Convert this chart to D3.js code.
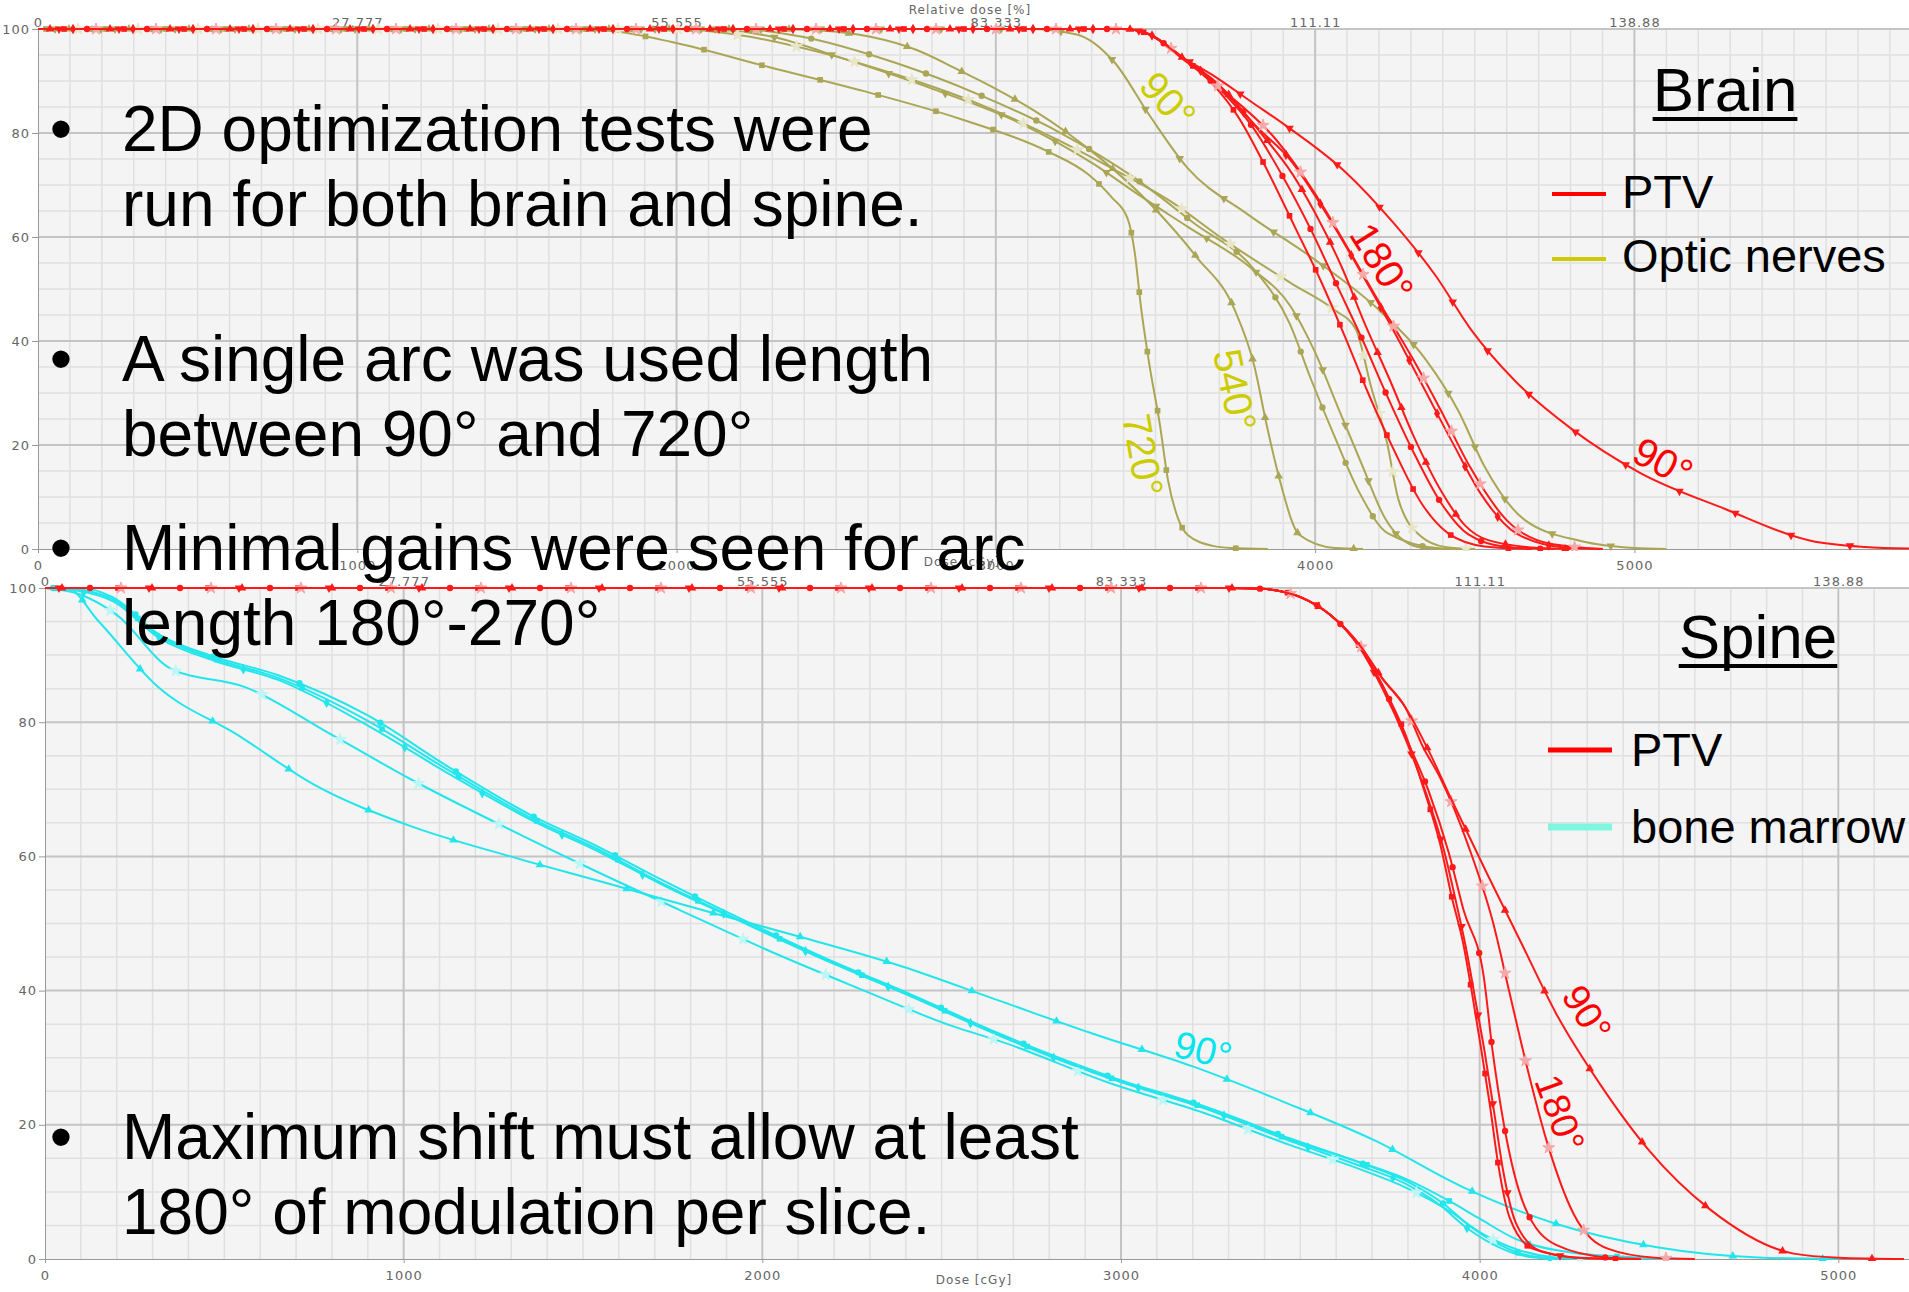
<!DOCTYPE html>
<html lang="en">
<head>
<meta charset="UTF-8">
<title>2D arc length tests - DVH</title>
<script src="https://cdn.jsdelivr.net/npm/d3@7"></script>
<style>
  body { margin: 0; background: #fff; overflow: hidden; }
  .axis text { font-family: 'DejaVu Sans', sans-serif; font-size: 13px; fill: #666; letter-spacing: 1px; }
  .axis path, .axis line { stroke: #999; }
  .slide { font-family: 'Liberation Sans', Arial, sans-serif; }
</style>
</head>
<body>
<svg id="chart" width="1909" height="1292"></svg>
<script>
// ---- axis labels ----
const doseTicks = [0, 1000, 2000, 3000, 4000, 5000];
const relLabels = ["0", "27.777", "55.555", "83.333", "111.11", "138.88"];
const volTicks = [0, 20, 40, 60, 80, 100];

// ---- Brain: PTV curves (dose cGy, volume %) ----
const ptvB90   = [[0,100],[3400,100],[3480,99],[3580,94.7],[3685,90.9],[3800,86],[3904,81.6],[4093,72.6],[4244,62.8],[4377,52.6],[4487,42.3],[4625,32.4],[4803,23.1],[5016,14.7],[5284,7.7],[5552,1.6],[5722,0.4],[5860,0.1]];
const ptvBsq   = [[0,100],[3400,100],[3480,99],[3580,94.7],[3685,89],[3758,83.2],[3852,72.6],[3936,62],[4019,51.4],[4093,40.9],[4166,30],[4244,19.4],[4333,8.8],[4417,3],[4531,0.5],[4680,0]];
const ptvBdi   = [[0,100],[3400,100],[3480,99],[3580,94.5],[3700,88.5],[3800,81.5],[3900,71.5],[3990,61],[4070,50.5],[4150,40],[4225,29.5],[4305,19],[4395,8.8],[4480,2.8],[4600,0.4],[4750,0]];
const ptvBtri  = [[0,100],[3400,100],[3480,99],[3580,94.7],[3700,89.2],[3830,80],[3930,72],[4000,64.6],[4087,53.7],[4155,43.4],[4234,32.5],[4307,21.9],[4396,11],[4470,4.5],[4542,1.7],[4700,0.2],[4800,0]];
const ptvB180  = [[0,100],[3400,100],[3480,99],[3580,94.8],[3700,88.8],[3878,78.7],[3999,68.4],[4103,57.8],[4202,47.3],[4302,37],[4396,26.4],[4484,15.9],[4599,5.6],[4730,1.1],[4900,0]];
const ptvBdn   = [[0,100],[3400,100],[3480,99],[3580,94.7],[3700,89],[3820,81],[3920,75],[4050,63],[4150,52.5],[4250,41.5],[4340,31],[4430,20.5],[4520,10.5],[4630,3],[4780,0.3],[4900,0]];

// ---- Brain: optic nerve curves ----
const optic90  = [[0,100],[3100,100],[3250,99],[3370,93.7],[3480,83.5],[3600,73.3],[3790,64.3],[4000,55.6],[4210,45.4],[4343,36.7],[4450,26.4],[4531,15.8],[4656,5.6],[4835,1.5],[5000,0.2],[5100,0]];
const optic720 = [[0,100],[1700,100],[1800,99.6],[1985,97.5],[2288,92.7],[2590,88],[2889,82.7],[3161,76.5],[3290,72],[3363,67.6],[3413,63.5],[3435,57],[3455,46.3],[3481,35.4],[3513,24.2],[3539,13.3],[3570,6],[3601,2.7],[3680,0.6],[3737,0.2],[3852,0]];
const optic540 = [[0,100],[2300,100],[2450,99.7],[2607,98.5],[2750,96],[2881,92.2],[3000,88.5],[3120,84.3],[3220,80.2],[3318,75.6],[3486,66.2],[3628,56.2],[3748,46],[3810,35.1],[3847,24.2],[3889,13.3],[3951,2.7],[4061,0.2],[4150,0]];
const opticC   = [[0,100],[2200,100],[2385,98.6],[2685,93.5],[2954,87.2],[3206,79.9],[3429,71.6],[3622,62.6],[3810,53.7],[3920,43.4],[3988,32.5],[4061,21.6],[4140,10.7],[4228,3],[4396,0.1],[4450,0]];
const opticD   = [[0,100],[2100,100],[2300,98.5],[2523,94.3],[2806,88.4],[3075,81.9],[3307,74],[3450,68],[3600,62],[3800,54],[3925,46.5],[4000,37.8],[4073,27],[4146,16.3],[4219,5.9],[4322,0.4],[4400,0]];
const opticE   = [[0,100],[2000,100],[2200,98.8],[2450,95.5],[2700,91],[2950,85.5],[3200,78.5],[3400,72],[3544,67],[3716,59.4],[3925,51.1],[4060,46],[4127,42.3],[4176,31],[4225,20.5],[4261,9.5],[4330,2.5],[4407,0.4],[4500,0]];

// ---- Spine: PTV curves ----
const ptvSsq   = [[0,100],[3300,100],[3389,99.9],[3502,98.6],[3583,96],[3664,91.4],[3729,85.5],[3793,78.2],[3842,70.4],[3890,61.8],[3922,54],[3955,46.8],[3979,39.5],[4003,31.7],[4028,23.1],[4052,14],[4084,6.1],[4149,1.5],[4278,0.2],[4440,0]];
const ptvSdn   = [[0,100],[3300,100],[3389,99.9],[3502,98.6],[3583,96],[3664,91.2],[3729,85],[3793,77.5],[3850,69.5],[3900,61],[3935,53],[3965,45.5],[3990,38],[4015,30.5],[4040,22],[4066,13],[4100,5.5],[4170,1.2],[4300,0.1],[4450,0]];
const ptvSdi   = [[0,100],[3300,100],[3389,99.9],[3502,98.6],[3583,96],[3664,91.4],[3729,85.5],[3800,77],[3858,69.7],[3914,60.5],[3955,52],[4011,42.2],[4036,31],[4068,19.9],[4124,8],[4213,2.1],[4359,0.2],[4450,0]];
const ptvS180  = [[0,100],[3300,100],[3389,99.9],[3502,98.6],[3583,96],[3664,91.6],[3729,86.5],[3793,82.2],[3842,76.3],[3890,71.7],[3971,61.2],[4036,50.4],[4084,39.5],[4133,28.4],[4189,17.2],[4262,6.7],[4359,1.5],[4488,0.2],[4600,0]];
const ptvS90   = [[0,100],[3300,100],[3389,99.9],[3502,98.6],[3583,96],[3664,91.6],[3729,86.5],[3793,82.2],[3860,75.5],[3922,68.4],[4019,57.6],[4116,47.1],[4213,36.6],[4335,26.1],[4472,16.2],[4642,7.4],[4876,0.8],[5000,0.2],[5183,0]];

// ---- Spine: bone marrow curves ----
const marrow90 = [[0,100],[60,100],[150,95],[310,85.5],[540,78],[750,70.7],[1010,64.7],[1290,60.1],[1560,56.1],[1840,51.9],[2120,47.8],[2390,43.6],[2660,38.5],[2920,33.6],[3200,28.7],[3450,23.5],[3710,17.6],[3950,10.8],[4210,5.3],[4490,1.8],[4790,0.2],[5000,0]];
const marrowB  = [[0,100],[100,100],[190,98.6],[320,93],[470,89.8],[650,87],[900,81],[1120,73.5],[1360,66],[1540,61.5],[1720,56.5],[1960,50.2],[2190,44.5],[2420,39.3],[2660,33.6],[2980,27],[3230,22.8],[3470,18],[3670,14.3],[3800,11.5],[3900,8.2],[3970,5],[4050,2.3],[4130,0.6],[4230,0]];
const marrowC  = [[0,100],[100,99.5],[190,98],[320,92.5],[470,89.2],[650,86.3],[900,79.5],[1120,72.5],[1360,65.3],[1540,60.8],[1720,55.8],[1960,49.8],[2190,44.2],[2420,39],[2660,33.3],[2980,26.7],[3230,22.5],[3470,17.6],[3660,14],[3790,11.3],[3890,8],[3960,4.8],[4040,2.1],[4120,0.5],[4210,0]];
const marrowD  = [[0,100],[100,99],[200,96],[350,88],[560,85.2],[800,78.1],[1030,71.2],[1270,64.7],[1520,58.2],[1770,52],[2020,45.9],[2270,40.3],[2530,34.7],[2660,32.5],[2980,26],[3230,21.8],[3470,17],[3660,13.5],[3800,10.5],[3920,7],[4000,4],[4100,1.5],[4200,0.3],[4300,0]];
const marrowE  = [[0,100],[100,99.7],[190,98.3],[320,92.8],[470,89.5],[650,86.6],[900,80.2],[1120,73],[1360,65.6],[1540,61.1],[1720,56],[1960,49.9],[2190,44.3],[2420,39.1],[2660,33.4],[2980,26.8],[3230,22.6],[3470,17.8],[3660,14.5],[3800,11.8],[3920,8.5],[4000,6],[4100,3],[4250,1],[4450,0.2],[4550,0]];

const RED = "#ff1a1a", OLIVE = "#aaa655", CYAN = "#22e6ec";

const svg = d3.select("#chart");
const sym = {
  tri: d3.symbolTriangle, sq: d3.symbolSquare, di: d3.symbolDiamond,
  dot: d3.symbolCircle, star: d3.symbolStar, dn: d3.symbolTriangle
};

function drawPanel(cfg) {
  const x = d3.scaleLinear().domain(cfg.xDomain).range([cfg.left, 1909]);
  const y = d3.scaleLinear().domain([0, 100]).range([cfg.bottom, cfg.top]);
  const g = svg.append("g");
  const w = 1909 - cfg.left, h = cfg.bottom - cfg.top;

  g.append("rect").attr("x", cfg.left).attr("y", cfg.top)
    .attr("width", w).attr("height", h).attr("fill", "#f4f4f4");

  // grid
  const minorX = d3.range(0, cfg.xDomain[1], 100).filter(d => d % 1000 !== 0);
  const minorY = d3.range(0, 100, 5).filter(d => d % 20 !== 0);
  g.selectAll(".mx").data(minorX).join("line")
    .attr("x1", d => x(d)).attr("x2", d => x(d)).attr("y1", cfg.top).attr("y2", cfg.bottom)
    .attr("stroke", "#e0e0e0").attr("stroke-width", 1.5);
  g.selectAll(".my").data(minorY).join("line")
    .attr("y1", d => y(d)).attr("y2", d => y(d)).attr("x1", cfg.left).attr("x2", 1909)
    .attr("stroke", "#e0e0e0").attr("stroke-width", 1.5);
  g.selectAll(".Mx").data(d3.range(1000, cfg.xDomain[1], 1000)).join("line")
    .attr("x1", d => x(d)).attr("x2", d => x(d)).attr("y1", cfg.top).attr("y2", cfg.bottom)
    .attr("stroke", "#c4c4c4").attr("stroke-width", 2);
  g.selectAll(".My").data(volTicks.slice(1)).join("line")
    .attr("y1", d => y(d)).attr("y2", d => y(d)).attr("x1", cfg.left).attr("x2", 1909)
    .attr("stroke", "#c4c4c4").attr("stroke-width", 2);

  // axes
  g.append("g").attr("class", "axis").attr("transform", `translate(0,${cfg.bottom})`)
    .call(d3.axisBottom(x).tickValues(doseTicks).tickSize(4).tickFormat(d3.format("d")))
    .call(a => a.selectAll("text").attr("dy", "1.1em"));
  g.append("g").attr("class", "axis").attr("transform", `translate(0,${cfg.top})`)
    .call(d3.axisTop(x).tickValues(doseTicks).tickSize(0).tickFormat((d, i) => relLabels[i]))
    .call(a => a.select(".domain").remove())
    .call(a => a.selectAll("text").attr("dy", "0.1em"));
  g.append("g").attr("class", "axis").attr("transform", `translate(${cfg.left},0)`)
    .call(d3.axisLeft(y).tickValues(volTicks).tickSize(6).tickPadding(2));

  g.append("text").attr("x", cfg.bottomTitle[0]).attr("y", cfg.bottomTitle[1])
    .attr("text-anchor", "middle").style("font-family", "DejaVu Sans").style("font-size", "12px")
    .attr("fill", "#666").style("letter-spacing", "1px").text("Dose [cGy]");
  if (cfg.topTitle) {
    g.append("text").attr("x", cfg.topTitle[0]).attr("y", cfg.topTitle[1])
      .attr("text-anchor", "middle").style("font-family", "DejaVu Sans").style("font-size", "12px")
      .attr("fill", "#666").style("letter-spacing", "1px").text("Relative dose [%]");
  }

  // curves
  const clipId = "clip" + cfg.top;
  g.append("clipPath").attr("id", clipId).append("rect")
    .attr("x", cfg.left).attr("y", cfg.top - 6).attr("width", w).attr("height", h + 8);
  const plot = g.append("g").attr("clip-path", `url(#${clipId})`);
  const line = d3.line().x(d => x(d[0])).y(d => y(d[1])).curve(d3.curveMonotoneX);

  cfg.series.forEach((s, i) => {
    const p = plot.append("path").datum(s.data).attr("d", line)
      .attr("fill", "none").attr("stroke", s.color).attr("stroke-width", 2);
    const node = p.node(), len = node.getTotalLength();
    const pts = d3.range(cfg.offset * i % cfg.stride + 8, len, cfg.stride).map(l => node.getPointAtLength(l));
    plot.selectAll(null).data(pts).join("path")
      .attr("d", d3.symbol().type(sym[s.mark]).size(s.mark === "star" ? 45 : 32))
      .attr("transform", d => `translate(${d.x},${d.y})` + (s.mark === "dn" ? " rotate(180)" : ""))
      .attr("fill", s.mark === "star" ? s.light : s.color)
      .attr("stroke", s.mark === "star" ? s.light : "none");
  });
  return { x, y };
}

drawPanel({
  left: 38, top: 29, bottom: 549, xDomain: [0, 5860], stride: 60, offset: 23,
  bottomTitle: [962, 566], topTitle: [970, 14],
  series: [
    { data: optic720, color: OLIVE, mark: "sq" },
    { data: optic540, color: OLIVE, mark: "tri" },
    { data: opticC, color: OLIVE, mark: "dot" },
    { data: opticD, color: OLIVE, mark: "dn" },
    { data: opticE, color: OLIVE, mark: "star", light: "#e8e6c8" },
    { data: optic90, color: OLIVE, mark: "dn" },
    { data: ptvBsq, color: RED, mark: "sq" },
    { data: ptvBdi, color: RED, mark: "dot" },
    { data: ptvBtri, color: RED, mark: "tri" },
    { data: ptvBdn, color: RED, mark: "di" },
    { data: ptvB180, color: RED, mark: "star", light: "#f7a8a8" },
    { data: ptvB90, color: RED, mark: "dn" }
  ]
});

drawPanel({
  left: 45, top: 588, bottom: 1259, xDomain: [0, 5197], stride: 90, offset: 31,
  bottomTitle: [974, 1284],
  series: [
    { data: marrowB, color: CYAN, mark: "dot" },
    { data: marrowC, color: CYAN, mark: "di" },
    { data: marrowD, color: CYAN, mark: "star", light: "#bdf6f6" },
    { data: marrowE, color: CYAN, mark: "sq" },
    { data: marrow90, color: CYAN, mark: "tri" },
    { data: ptvSsq, color: RED, mark: "sq" },
    { data: ptvSdn, color: RED, mark: "dn" },
    { data: ptvSdi, color: RED, mark: "dot" },
    { data: ptvS180, color: RED, mark: "star", light: "#f7a8a8" },
    { data: ptvS90, color: RED, mark: "tri" }
  ]
});

// ---- curve annotations ----
const notes = [
  { t: "90°", x: 1168, y: 100, r: 48, c: "#cccc00", s: 40 },
  { t: "540°", x: 1235, y: 390, r: 78, c: "#cccc00", s: 40 },
  { t: "720°", x: 1143, y: 455, r: 80, c: "#cccc00", s: 40 },
  { t: "180°", x: 1382, y: 262, r: 58, c: "#ff0000", s: 40 },
  { t: "90°", x: 1663, y: 462, r: 28, c: "#ff0000", s: 40 },
  { t: "90°", x: 1203, y: 1050, r: 14, c: "#00e5ee", s: 38 },
  { t: "90°", x: 1587, y: 1013, r: 58, c: "#ff0000", s: 38 },
  { t: "180°", x: 1560, y: 1113, r: 70, c: "#ff0000", s: 38 }
];
svg.selectAll(".note").data(notes).join("text")
  .attr("class", "slide")
  .attr("transform", d => `translate(${d.x},${d.y}) rotate(${d.r})`)
  .attr("text-anchor", "middle").attr("dy", "0.35em")
  .style("font-size", d => d.s + "px").style("fill", d => d.c).text(d => d.t);

// ---- legends ----
function legend(title, tx, ty, items) {
  const t = svg.append("text").attr("class", "slide").attr("x", tx).attr("y", ty)
    .attr("text-anchor", "middle").style("font-size", "62px").style("fill", "#000").text(title);
  const bb = t.node().getBBox();
  svg.append("rect").attr("x", bb.x).attr("y", ty + 6).attr("width", bb.width).attr("height", 4).attr("fill", "#000");
  items.forEach(it => {
    svg.append("line").attr("x1", it.x1).attr("x2", it.x2).attr("y1", it.ly).attr("y2", it.ly)
      .attr("stroke", it.color).attr("stroke-width", it.w);
    svg.append("text").attr("class", "slide").attr("x", it.tx).attr("y", it.ty)
      .style("font-size", "47px").style("fill", "#000").text(it.label);
  });
}
legend("Brain", 1725, 111, [
  { label: "PTV", color: "#ff0000", w: 4, x1: 1552, x2: 1606, ly: 194, tx: 1622, ty: 208 },
  { label: "Optic nerves", color: "#cccc00", w: 4, x1: 1552, x2: 1606, ly: 259, tx: 1622, ty: 272 }
]);
legend("Spine", 1758, 658, [
  { label: "PTV", color: "#ff0000", w: 5, x1: 1548, x2: 1612, ly: 750, tx: 1631, ty: 766 },
  { label: "bone marrow", color: "#80f5e0", w: 7, x1: 1548, x2: 1612, ly: 827, tx: 1631, ty: 843 }
]);

// ---- slide bullets ----
const bulletLines = [
  ["2D optimization tests were", "run for both brain and spine."],
  ["A single arc was used length", "between 90° and 720°"],
  ["Minimal gains were seen for arc", "length 180°-270°"],
  ["Maximum shift must allow at least", "180° of modulation per slice."]
];
const bulletY = [151, 381, 570, 1159];
bulletLines.forEach((lines, i) => {
  svg.append("text").attr("class", "slide").attr("x", 61).attr("y", bulletY[i])
    .attr("text-anchor", "middle").style("font-size", "64px").style("fill", "#000").text("•");
  lines.forEach((l, j) => {
    svg.append("text").attr("class", "slide").attr("x", 122).attr("y", bulletY[i] + j * 75)
      .style("font-size", "64px").style("fill", "#000").text(l);
  });
});
</script>
</body>
</html>
